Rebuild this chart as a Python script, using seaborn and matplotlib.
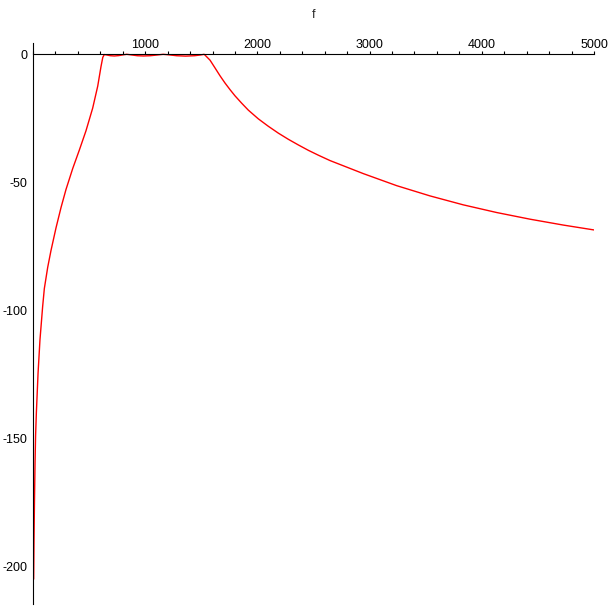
import matplotlib
matplotlib.use("Agg")
import matplotlib.pyplot as plt
from matplotlib.ticker import MultipleLocator, FixedLocator
import seaborn as sns
import pandas as pd

# ---- data (frequency f, gain in dB) ----
freq = [6, 9, 13, 18, 23, 30, 45, 62, 86, 101, 131, 160, 205, 250, 294, 354,
        413, 472, 532, 577, 606, 622, 635,
        650, 690, 725, 765, 805, 835, 870, 930, 985, 1045, 1110, 1160,
        1210, 1280, 1360, 1440, 1495, 1525,
        1533, 1578, 1622, 1667, 1711, 1756, 1800, 1860, 1919, 2008, 2097,
        2187, 2276, 2365, 2454, 2543, 2647, 2944, 3241, 3538, 3835, 4133,
        4430, 4727, 5000]
gain_db = [-205, -190, -175, -160, -149, -140, -124.6, -111.6, -98.5, -91.5,
           -83.2, -76.7, -67.8, -59.8, -52.8, -44.6, -37.4, -29.9, -21.0,
           -12.4, -4.8, -1.2, -0.1,
           -0.2, -0.55, -0.65, -0.5, -0.2, 0.0, -0.2, -0.55, -0.65, -0.55,
           -0.25, 0.0, -0.2, -0.55, -0.7, -0.55, -0.25, 0.0,
           -0.3, -2.3, -5.3, -8.4, -11.2, -13.8, -16.2, -19.1, -21.8, -25.2,
           -28.1, -30.8, -33.2, -35.4, -37.5, -39.4, -41.5, -46.6, -51.3,
           -55.3, -58.8, -61.8, -64.4, -66.7, -68.6]

x_labels = [1000, 2000, 3000, 4000, 5000]
y_labels = [0, -50, -100, -150, -200]

sns.set_style("white")
plt.rcParams["font.family"] = ["Liberation Sans", "DejaVu Sans"]
plt.rcParams["axes.unicode_minus"] = False

W = 612.0
fig = plt.figure(figsize=(6.12, 6.12), dpi=100)
ax = fig.add_axes([33 / W, 1 - 604 / W, (594 - 33) / W, (604 - 43.3) / W])

df = pd.DataFrame({"f": freq, "dB": gain_db})
sns.lineplot(data=df, x="f", y="dB", color="#ff0000", lw=1.0,
             estimator=None, ax=ax, legend=False)

ax.set_xlim(0, 5000)
ax.set_ylim(-214.7, 4.3)

# axes lines through the origin, Maple style
for s in ["bottom", "right"]:
    ax.spines[s].set_visible(False)
ax.spines["top"].set_position(("data", 0))
ax.spines["left"].set_position(("data", 0))
for s in ["top", "left"]:
    ax.spines[s].set_color("black")
    ax.spines[s].set_linewidth(0.8)

ax.xaxis.set_ticks_position("top")
ax.xaxis.set_major_locator(FixedLocator(x_labels))
ax.xaxis.set_minor_locator(MultipleLocator(200))
ax.set_xticklabels([str(v) for v in x_labels])
ax.yaxis.set_major_locator(FixedLocator(y_labels))
ax.yaxis.set_minor_locator(MultipleLocator(10))
ax.set_yticklabels([str(v) for v in y_labels])

ax.tick_params(axis="x", which="both", direction="out", length=2.2, width=0.8,
               pad=0, labelsize=9, colors="black")
ax.tick_params(axis="y", which="both", direction="out", length=2.2, width=0.8,
               pad=2, labelsize=9, colors="black")

ax.xaxis.set_label_position("top")
ax.set_xlabel("f", fontsize=9, labelpad=15.5)
ax.set_ylabel("")
ax.grid(False)

fig.savefig("out.png", dpi=100, facecolor="white")
